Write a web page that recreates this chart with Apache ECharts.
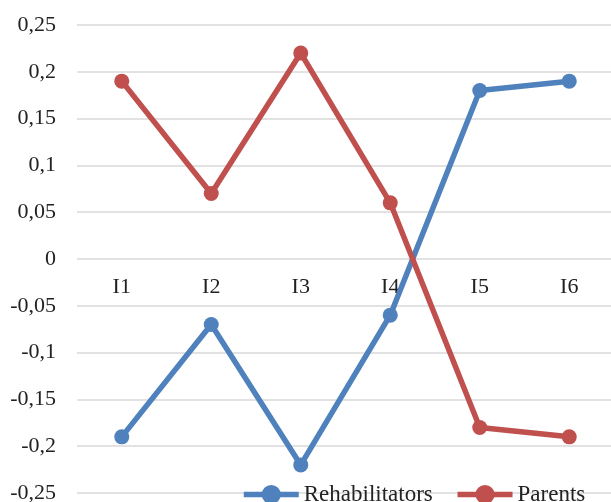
<!DOCTYPE html>
<html><head><meta charset="utf-8">
<script src="https://cdn.jsdelivr.net/npm/echarts@6/dist/echarts.min.js"></script>
<style>html,body{margin:0;padding:0;background:#fff}#c{width:611px;height:502px}</style>
</head><body><div id="c"></div>
<script>
const categories = ['I1','I2','I3','I4','I5','I6'];
const rehabilitators = [-0.19, -0.07, -0.22, -0.06, 0.18, 0.19];
const parents = [0.19, 0.07, 0.22, 0.06, -0.18, -0.19];
const seriesNames = ['Rehabilitators','Parents'];
const font = 'Liberation Serif';
const chart = echarts.init(document.getElementById('c'));
chart.setOption({
  animation: false,
  grid: {left: 77, right: -3, top: 25, bottom: 9, containLabel: false, outerBoundsMode: 'none'},
  xAxis: {
    type: 'category', data: categories, boundaryGap: true, position: 'bottom', offset: -234,
    axisLine: {show: false, onZero: false}, axisTick: {show: false},
    axisLabel: {margin: 17, fontFamily: font, fontSize: 22, color: '#222'},
    splitLine: {show: false}
  },
  yAxis: {
    type: 'value', min: -0.25, max: 0.25, interval: 0.05,
    axisLine: {show: false}, axisTick: {show: false},
    axisLabel: {margin: 21, fontFamily: font, fontSize: 22, color: '#222',
      formatter: v => String(+v.toFixed(2)).replace('.', ',')},
    splitLine: {lineStyle: {color: '#d9d9d9', width: 1.5}}
  },
  legend: {
    data: seriesNames, left: 236, top: 478, itemWidth: 55, itemHeight: 24, itemGap: 22,
    lineStyle: {width: 5.5},
    textStyle: {fontFamily: font, fontSize: 23, color: '#222'}
  },
  series: [
    {name: seriesNames[0], type: 'line', data: rehabilitators, symbol: 'circle', symbolSize: 15,
     lineStyle: {color: '#4F81BD', width: 5.5}, itemStyle: {color: '#4F81BD'}},
    {name: seriesNames[1], type: 'line', data: parents, symbol: 'circle', symbolSize: 15,
     lineStyle: {color: '#C0504D', width: 5.5}, itemStyle: {color: '#C0504D'}}
  ]
});
</script></body></html>
